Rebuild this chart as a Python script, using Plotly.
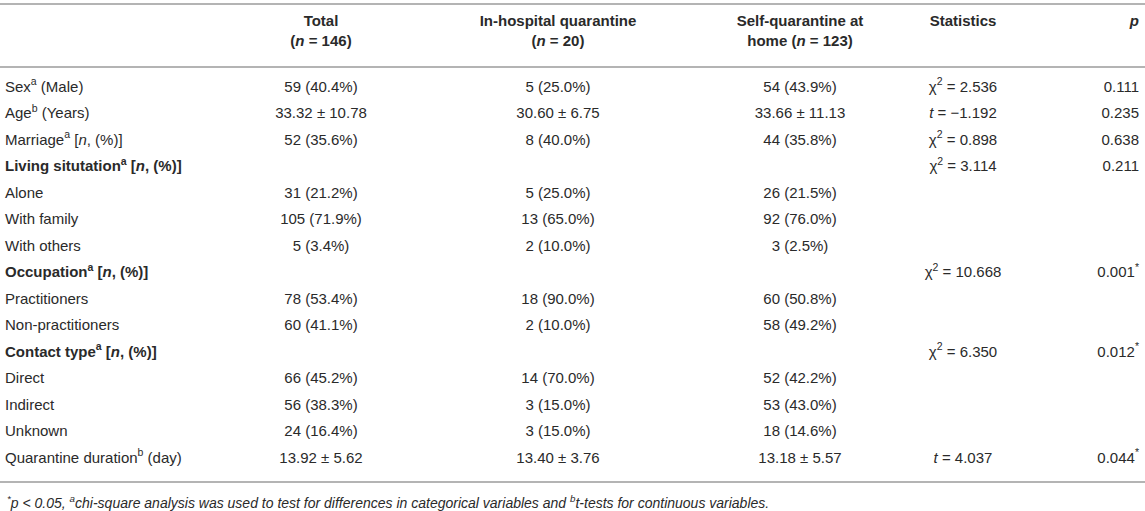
import plotly.graph_objects as go

# Table content
header_top = ["<b>Total</b>", "<b>In-hospital quarantine</b>", "<b>Self-quarantine at</b>",
              "<b>Statistics</b>", "<b><i>p</i></b>"]
header_bottom = ["<b>(<i>n</i> = 146)</b>", "<b>(<i>n</i> = 20)</b>", "<b>home (<i>n</i> = 123)</b>", "", ""]

row_labels = [
    "Sex<sup>a</sup> (Male)",
    "Age<sup>b</sup> (Years)",
    "Marriage<sup>a</sup> [<i>n</i>, (%)]",
    "<b>Living situtation<sup>a</sup> [<i>n</i>, (%)]</b>",
    "Alone",
    "With family",
    "With others",
    "<b>Occupation<sup>a</sup> [<i>n</i>, (%)]</b>",
    "Practitioners",
    "Non-practitioners",
    "<b>Contact type<sup>a</sup> [<i>n</i>, (%)]</b>",
    "Direct",
    "Indirect",
    "Unknown",
    "Quarantine duration<sup>b</sup> (day)",
]
total = ["59 (40.4%)", "33.32 ± 10.78", "52 (35.6%)", "", "31 (21.2%)", "105 (71.9%)",
         "5 (3.4%)", "", "78 (53.4%)", "60 (41.1%)", "", "66 (45.2%)", "56 (38.3%)",
         "24 (16.4%)", "13.92 ± 5.62"]
hospital = ["5 (25.0%)", "30.60 ± 6.75", "8 (40.0%)", "", "5 (25.0%)", "13 (65.0%)",
            "2 (10.0%)", "", "18 (90.0%)", "2 (10.0%)", "", "14 (70.0%)", "3 (15.0%)",
            "3 (15.0%)", "13.40 ± 3.76"]
home = ["54 (43.9%)", "33.66 ± 11.13", "44 (35.8%)", "", "26 (21.5%)", "92 (76.0%)",
        "3 (2.5%)", "", "60 (50.8%)", "58 (49.2%)", "", "52 (42.2%)", "53 (43.0%)",
        "18 (14.6%)", "13.18 ± 5.57"]
stats = ["χ<sup>2</sup> = 2.536", "<i>t</i> = −1.192", "χ<sup>2</sup> = 0.898",
         "χ<sup>2</sup> = 3.114", "", "", "", "χ<sup>2</sup> = 10.668", "", "",
         "χ<sup>2</sup> = 6.350", "", "", "", "<i>t</i> = 4.037"]
pvals = ["0.111", "0.235", "0.638", "0.211", "", "", "", "0.001<sup>*</sup>", "", "",
         "0.012<sup>*</sup>", "", "", "", "0.044<sup>*</sup>"]

footnote = ("<i><sup>*</sup>p &lt; 0.05, <sup>a</sup>chi-square analysis was used to test for "
            "differences in categorical variables and <sup>b</sup>t-tests for continuous variables.</i>")

# layout (pixel-like units)
W, H = 1145, 511
col_x = [5, 321, 558, 800, 963, 1139]
col_pos = ["middle right", "middle center", "middle center", "middle center",
           "middle center", "middle left"]
head_y = [22, 42]
row_y0, row_h = 88, 26.5
rule_y = [4, 67, 482]
TXT = "#2a2a2a"
FONT = "Liberation Sans, Arial, Helvetica, sans-serif"
FS = 15

fig = go.Figure()

rows_y = [row_y0 + i * row_h for i in range(len(row_labels))]
columns = [row_labels, total, hospital, home, stats, pvals]
for j, col in enumerate(columns):
    fig.add_trace(go.Scatter(
        x=[col_x[j]] * len(col), y=rows_y, text=col, mode="text",
        textposition=col_pos[j], textfont=dict(size=FS, color=TXT, family=FONT),
        hoverinfo="skip", showlegend=False,
    ))

for k, line in enumerate([header_top, header_bottom]):
    fig.add_trace(go.Scatter(
        x=col_x[1:], y=[head_y[k]] * len(line), text=line, mode="text",
        textposition=col_pos[1:], textfont=dict(size=FS, color=TXT, family=FONT),
        hoverinfo="skip", showlegend=False,
    ))

for yy in rule_y:
    fig.add_shape(type="line", xref="paper", x0=0, x1=1, y0=yy, y1=yy,
                  line=dict(color="#b4b4b4", width=2))

fig.add_annotation(x=5, y=502, text=footnote, showarrow=False, xanchor="left",
                   yanchor="middle", font=dict(size=14, color=TXT, family=FONT))

fig.update_layout(
    width=W, height=H, margin=dict(l=0, r=0, t=0, b=0),
    paper_bgcolor="white", plot_bgcolor="white",
    xaxis=dict(range=[0, W], visible=False, fixedrange=True),
    yaxis=dict(range=[H, 0], visible=False, fixedrange=True),
)

# page body has a default margin, drop it so the figure fills the window
fig.write_html("out.html", post_script="document.body.style.margin='0';",
               config={"displayModeBar": False})
